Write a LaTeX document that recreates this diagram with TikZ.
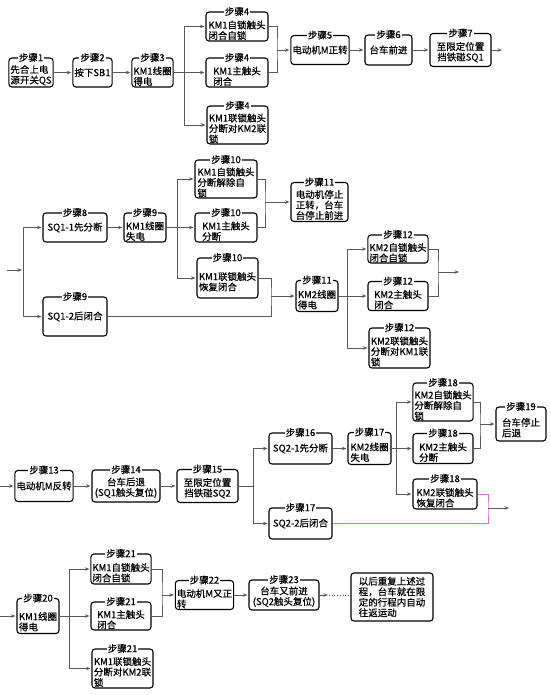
\documentclass[tikz,border=0pt]{standalone}
\usepackage{fontspec}
\newfontfamily\cjk{Noto Sans CJK SC}[FakeBold=0.6]
\usetikzlibrary{arrows.meta}
\definecolor{linkpink}{RGB}{215,110,215}

\begin{document}
\begin{tikzpicture}[x=1pt,y=-1pt,
  box/.style={draw,line width=1.1pt,rounded corners=3pt,inner xsep=1.5pt,inner ysep=0.5pt,
    align=left,font=\cjk\fontsize{9.5}{10.5}\selectfont},
  lbox/.style={box,execute at begin node={\rule{0pt}{#1}}},
  lbox/.default=26pt,
  sz/.style 2 args={minimum width=#1,minimum height=#2},
  ttl/.style={fill=white,inner sep=1pt,font=\cjk\fontsize{9.5}{10.5}\selectfont},
  conn/.style={draw=black!65,line width=0.7pt},
  arr/.style={conn,-{Stealth[length=4.5pt,width=3.5pt]},shorten >=1pt}]

\useasboundingbox (0,0) rectangle (550,695);

% row 1
\node[lbox=24pt,sz={44}{29}] (b1) at (31,72.5) {先合上电\\源开关QS};
\node[box,sz={39}{29}] (b2) at (92.5,72.5) {按下SB1};
\node[lbox,sz={39}{29}] (b3) at (152.5,72.5) {KM1线圈\\得电};
\node[lbox,sz={62}{29}] (b4a) at (237,26.5) {KM1自锁触头\\闭合自锁};
\node[lbox,sz={62}{29}] (b4b) at (237,72.5) {KM1主触头\\闭合};
\node[lbox=36pt,sz={61}{38}] (b4c) at (237.5,125) {KM1联锁触头\\分断对KM2联\\锁};
\node[box,sz={58}{29}] (b5) at (320,50) {电动机M正转};
\node[box,sz={47}{30}] (b6) at (388.5,50) {台车前进};
\node[lbox=23pt,sz={61}{33},align=center] (b7) at (460.5,50) {至限定位置\\挡铁碰SQ1};
\coordinate (j3) at (184,72.5);
\coordinate (m4) at (277,50);
\coordinate (e7) at (503,50);

\draw[arr] (b1) -- (b2);
\draw[arr] (b2) -- (b3);
\draw[conn] (b3) -- (j3);
\draw[arr] (j3) |- (b4a);
\draw[arr] (j3) -- (b4b);
\draw[arr] (j3) |- (b4c);
\draw[conn] (b4a) -| (m4) |- (b4b);
\draw[arr] (m4) -- (b5);
\draw[arr] (b5) -- (b6);
\draw[arr] (b6) -- (b7);
\draw[arr] (b7) -- (e7);

% row 2
\node[box,sz={64}{29}] (b8) at (75,227.5) {SQ1-1先分断};
\node[lbox,sz={42}{29}] (b9a) at (145,227.5) {KM1线圈\\失电};
\node[box,sz={64}{39}] (b9b) at (75,316.5) {SQ1-2后闭合};
\node[lbox=36pt,sz={62}{38}] (b10a) at (226,179) {KM1自锁触头\\分断解除自\\锁};
\node[lbox,sz={62}{29}] (b10b) at (226,227.5) {KM1主触头\\分断};
\node[lbox,sz={61}{40}] (b10c) at (227.5,278) {KM1联锁触头\\恢复闭合};
\node[lbox=35pt,sz={57}{39}] (b11a) at (319.5,202) {电动机停止\\正转，台车\\台停止前进};
\node[lbox,sz={42}{31}] (b11b) at (317,296) {KM2线圈\\得电};
\node[lbox,sz={60}{28}] (b12a) at (398,249) {KM2自锁触头\\闭合自锁};
\node[lbox,sz={60}{29}] (b12b) at (398,296) {KM2主触头\\闭合};
\node[lbox=36pt,sz={61}{40}] (b12c) at (399.5,348) {KM2联锁触头\\分断对KM1联\\锁};
\coordinate (in2) at (7,270);
\coordinate (j2) at (23,270);
\coordinate (j9) at (177,227.5);
\coordinate (m10) at (265,202);
\coordinate (m11) at (271,296);
\coordinate (j11) at (347,296);
\coordinate (m12) at (438,272);
\coordinate (e12) at (460,272);

\draw[arr] (in2) -- (j2);
\draw[arr] (j2) |- (b8);
\draw[arr] (j2) |- (b9b);
\draw[arr] (b8) -- (b9a);
\draw[conn] (b9a) -- (j9);
\draw[arr] (j9) |- (b10a);
\draw[arr] (j9) -- (b10b);
\draw[arr] (j9) |- (b10c);
\draw[conn] (b10a) -| (m10) |- (b10b);
\draw[arr] (m10) -- (b11a);
\draw[conn] (b10c) -| (m11) |- (b9b);
\draw[arr] (m11) -- (b11b);
\draw[conn] (b11b) -- (j11);
\draw[arr] (j11) |- (b12a);
\draw[arr] (j11) -- (b12b);
\draw[arr] (j11) |- (b12c);
\draw[conn] (b12a) -| (m12) |- (b12b);
\draw[arr] (m12) -- (e12);

% row 3
\node[box,sz={58}{31}] (b13) at (44,486) {电动机M反转};
\node[lbox=22pt,sz={68}{32},align=center] (b14) at (126,486) {台车后退\\(SQ1触头复位)};
\node[lbox=23pt,sz={61}{33},align=center] (b15) at (207.5,486) {至限定位置\\挡铁碰SQ2};
\node[box,sz={63}{31}] (b16) at (300.5,448.5) {SQ2-1先分断};
\node[lbox,sz={43}{32}] (b17a) at (369.5,448.5) {KM2线圈\\失电};
\node[box,sz={63}{31}] (b17b) at (300.5,523.5) {SQ2-2后闭合};
\node[lbox=36pt,sz={60}{38}] (b18a) at (443,402) {KM2自锁触头\\分断解除自\\锁};
\node[lbox,sz={60}{30}] (b18b) at (443,448.5) {KM2主触头\\分断};
\node[lbox,sz={64}{30}] (b18c) at (445,494) {KM2联锁触头\\恢复闭合};
\node[lbox,sz={50}{34}] (b19) at (521,424) {台车停止\\后退};
\coordinate (in3) at (0,486);
\coordinate (j15) at (253,486);
\coordinate (j17) at (396,448.5);
\coordinate (m18) at (480,424);
\coordinate (p18) at (488,508);
\coordinate (e18) at (510,508);

\draw[arr] (in3) -- (b13);
\draw[arr] (b13) -- (b14);
\draw[arr] (b14) -- (b15);
\draw[conn] (b15) -- (j15);
\draw[arr] (j15) |- (b16);
\draw[arr] (j15) |- (b17b);
\draw[arr] (b16) -- (b17a);
\draw[conn] (b17a) -- (j17);
\draw[arr] (j17) |- (b18a);
\draw[arr] (j17) -- (b18b);
\draw[arr] (j17) |- (b18c);
\draw[conn] (b18a) -| (m18) |- (b18b);
\draw[arr] (m18) -- (b19);
\draw[conn,draw=linkpink] (b18c) -| (p18) |- (b17b);
\draw[arr] (p18) -- (e18);

% row 4
\node[lbox=30pt,sz={42}{35}] (b20) at (38,616) {KM1线圈\\得电};
\node[lbox,sz={60}{30}] (b21a) at (121,569) {KM1自锁触头\\闭合自锁};
\node[lbox,sz={60}{28}] (b21b) at (121,616) {KM1主触头\\闭合};
\node[lbox=36pt,sz={61}{39}] (b21c) at (122.5,668.5) {KM1联锁触头\\分断对KM2联\\锁};
\node[lbox,sz={57}{29}] (b22) at (204.5,595) {电动机M又正\\转};
\node[lbox=22pt,sz={70}{30},align=center] (b23) at (284,595) {台车又前进\\(SQ2触头复位)};
\node[box,sz={82}{48}] (fin) at (392,597) {以后重复上述过\\程，台车就在限\\定的行程内自动\\往返运动};
\coordinate (in4) at (0,616);
\coordinate (j20) at (69,616);
\coordinate (m21) at (162,595);
\coordinate (d23) at (329,595);

\draw[arr] (in4) -- (b20);
\draw[conn] (b20) -- (j20);
\draw[arr] (j20) |- (b21a);
\draw[arr] (j20) -- (b21b);
\draw[arr] (j20) |- (b21c);
\draw[conn] (b21a) -| (m21) |- (b21b);
\draw[arr] (m21) -- (b22);
\draw[arr] (b22) -- (b23);
\draw[arr] (b23) -- (d23);
\draw[conn,dotted,line width=1pt] (d23) -- (d23 -| fin.west);

% step titles on the top edges
\foreach \n/\s in {b1/1,b2/2,b3/3,b4a/4,b4b/4,b4c/4,b5/5,b6/6,b7/7,
    b8/8,b9a/9,b9b/9,b10a/10,b10b/10,b10c/10,b11a/11,b11b/11,b12a/12,b12b/12,b12c/12,
    b13/13,b14/14,b15/15,b16/16,b17a/17,b17b/17,b18a/18,b18b/18,b18c/18,b19/19,
    b20/20,b21a/21,b21b/21,b21c/21,b22/22,b23/23}
  \node[ttl] (t\n) at (\n.north) {步骤\s};

\end{tikzpicture}
\end{document}
